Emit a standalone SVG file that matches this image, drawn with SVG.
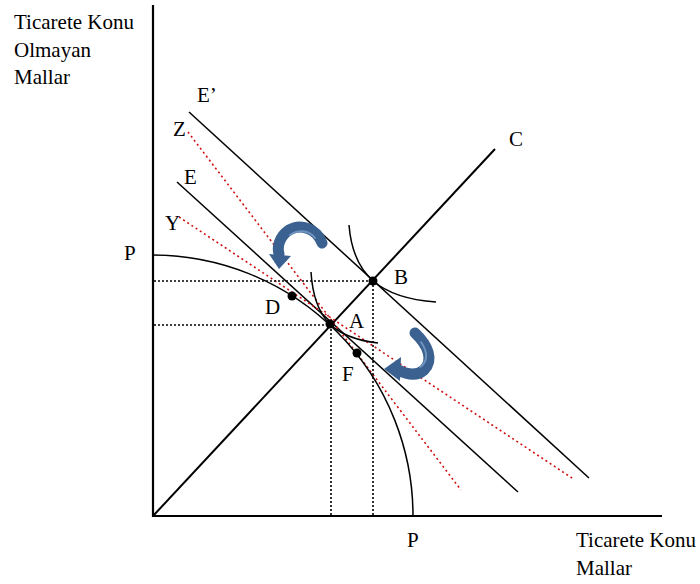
<svg xmlns="http://www.w3.org/2000/svg" width="700" height="584" viewBox="0 0 700 584">
<style>
text{font-family:"Liberation Serif","Times New Roman",serif;font-size:21px;fill:#000}
.ln{stroke:#000;stroke-width:1.5;fill:none}
.ray{stroke:#000;stroke-width:2;fill:none}
.ax{stroke:#000;stroke-width:2.2;fill:none}
.rd{stroke:#d01010;stroke-width:1.6;fill:none;stroke-dasharray:2 3}
.bd{stroke:#000;stroke-width:1.6;fill:none;stroke-dasharray:2 2}
.dot{fill:#000}
.arr{stroke:#3b6190;stroke-width:11;fill:none;stroke-linecap:round}
.hl{stroke:#6f93bd;stroke-width:2;fill:none;stroke-linecap:round}
.ah{fill:#3b6190}
</style>
<g id="axes">
<line class="ax" x1="153" y1="5" x2="153" y2="517"/>
<line class="ax" x1="152" y1="516" x2="662" y2="516"/>
<text x="14" y="29">Ticarete Konu</text>
<text x="14" y="57">Olmayan</text>
<text x="14" y="84">Mallar</text>
<text x="576" y="547">Ticarete Konu</text>
<text x="576" y="575">Mallar</text>
</g>
<g id="connectors">
<line class="ray" x1="153" y1="516" x2="495" y2="149"/>
<line class="ln" x1="189" y1="112" x2="589" y2="478"/>
<line class="ln" x1="177" y1="182" x2="518" y2="492"/>
<line class="rd" x1="188" y1="132" x2="461" y2="490"/>
<line class="rd" x1="179" y1="217" x2="572" y2="478"/>
<path class="ln" d="M153,255 A261,261 0 0 1 413,516"/>
<path class="ln" d="M311,272 C314,320 335,338 378,343"/>
<path class="ln" d="M349,225 C353,275 380,298 436,302"/>
<line class="bd" x1="154" y1="281" x2="373" y2="281"/>
<line class="bd" x1="154" y1="325" x2="331" y2="325"/>
<line class="bd" x1="331" y1="325" x2="331" y2="515"/>
<line class="bd" x1="373" y1="281" x2="373" y2="515"/>
</g>
<g id="arrows">
<path class="arr" d="M322,243 C317,229 301,223 289,230 C279,237 277,247 279,254"/>
<path class="hl" d="M315,238 C309,230 298,229 290,235"/>
<polygon class="ah" points="269,254 291,256 279,269"/>
<path class="arr" d="M415,333 C428,345 434,360 424,370 C416,377 406,374 398,370"/>
<path class="hl" d="M421,342 C428,352 428,362 420,367"/>
<polygon class="ah" points="401,357 384,369 400,381"/>
</g>
<g id="node-P-top"><text x="124" y="260">P</text></g>
<g id="node-P-bottom"><text x="407" y="547">P</text></g>
<g id="node-E1"><text x="197" y="102">E’</text></g>
<g id="node-Z"><text x="173" y="136">Z</text></g>
<g id="node-E"><text x="184" y="184">E</text></g>
<g id="node-Y"><text x="165" y="230">Y</text></g>
<g id="node-C"><text x="509" y="146">C</text></g>
<g id="node-B"><circle class="dot" cx="373" cy="281" r="4.5"/><text x="394" y="284">B</text></g>
<g id="node-A"><circle class="dot" cx="330" cy="324" r="4.5"/><text x="349" y="328">A</text></g>
<g id="node-D"><circle class="dot" cx="292" cy="296" r="4.5"/><text x="265" y="314">D</text></g>
<g id="node-F"><circle class="dot" cx="357" cy="353" r="4.5"/><text x="342" y="381">F</text></g>
</svg>
